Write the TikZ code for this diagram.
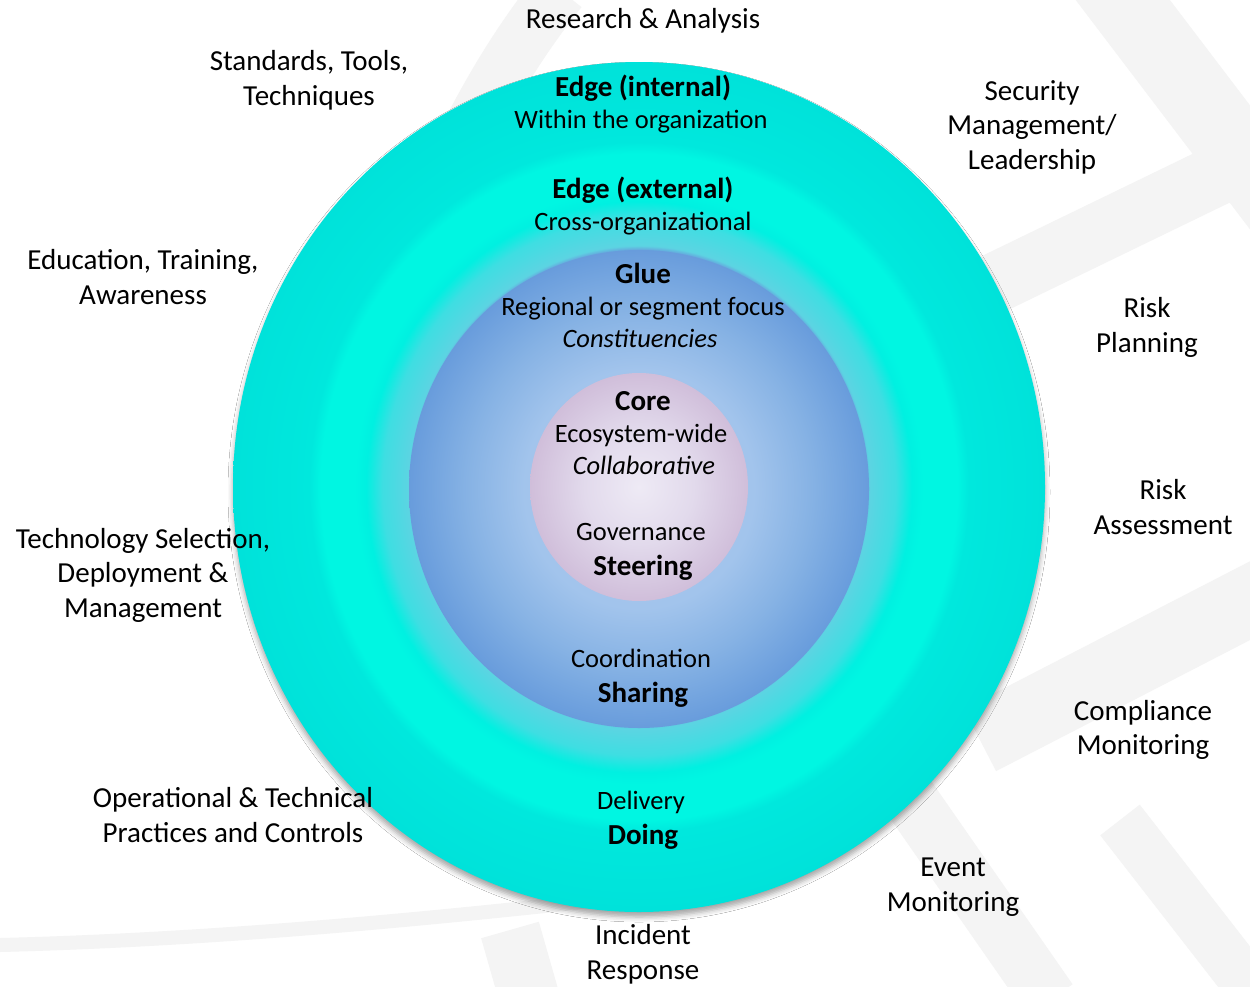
\documentclass[tikz,border=0pt]{standalone}
\usepackage{fontspec}
\setmainfont{Carlito}
\usetikzlibrary{shadows.blur}
\definecolor{wm}{RGB}{244,244,244}
\definecolor{glA}{RGB}{172,202,238}
\definecolor{glB}{RGB}{162,196,236}
\definecolor{glC}{RGB}{134,178,228}
\definecolor{glD}{RGB}{104,156,220}
\definecolor{rtA}{RGB}{92,212,226}
\definecolor{rtB}{RGB}{62,222,226}
\definecolor{rbA}{RGB}{0,240,225}
\definecolor{rbB}{RGB}{0,246,226}
\definecolor{roA}{RGB}{0,232,221}
\definecolor{roB}{RGB}{0,226,218}
\definecolor{coA}{RGB}{238,234,245}
\definecolor{coB}{RGB}{226,218,236}
\definecolor{coC}{RGB}{208,190,218}
\pgfdeclareradialshading{outerring}{\pgfpoint{0bp}{0bp}}{color(0bp)=(glD); color(13.9bp)=(glD); color(14.2bp)=(rtA); color(15.8bp)=(rtB); color(16.8bp)=(rbA); color(17.5bp)=(rbB); color(19.6bp)=(rbB); color(20.3bp)=(roA); color(25bp)=(roB); color(50bp)=(roB)}
\pgfdeclareradialshading{gluefill}{\pgfpoint{0bp}{0bp}}{color(0bp)=(glA); color(12.5bp)=(glB); color(18.75bp)=(glC); color(25bp)=(glD); color(50bp)=(glD)}
\pgfdeclareradialshading{corefill}{\pgfpoint{0bp}{0bp}}{color(0bp)=(coA); color(12.5bp)=(coB); color(25bp)=(coC); color(50bp)=(coC)}
\tikzset{
  lbl/.style={inner sep=0pt, anchor=base, font=\fontsize{29}{35}\selectfont, text=black},
  hd/.style={inner sep=0pt, anchor=base, font=\fontsize{29}{35}\selectfont\bfseries, text=black},
  sub/.style={inner sep=0pt, anchor=base, font=\fontsize{26.5}{33}\selectfont, text=black},
  subit/.style={inner sep=0pt, anchor=base, font=\fontsize{26.5}{33}\selectfont\itshape, text=black},
  wmband/.style={draw=wm, line cap=butt}
}
\begin{document}
\begin{tikzpicture}[x=1pt,y=-1pt]
\useasboundingbox (0,0) rectangle (1250,986);
\fill[white] (0,0) rectangle (1250,986);
% watermark
\begin{scope}
\clip (0,0) rectangle (1250,986);
\draw[wmband, line width=55] (560,-10) .. controls (520,40) and (490,90) .. (460,150);
\draw[wmband, line width=75] (1100,-30) -- (1290,220);
\draw[wmband, line width=60] (960,300) -- (1290,140);
\draw[wmband, line width=70] (980,740) -- (1290,580);
\draw[wmband, line width=55] (890,770) -- (1050,1000);
\draw[wmband, line width=50] (1120,820) -- (1260,1000);
\draw[wmband, line width=14] (0,945) .. controls (200,940) and (400,922) .. (600,900);
\draw[wmband, line width=60] (510,930) -- (530,1000);
\end{scope}
% rings
\shade[shading=outerring, blur shadow={shadow xshift=0pt, shadow yshift=-5pt, shadow blur radius=5pt, shadow opacity=35}] (639,487) ellipse [x radius=406, y radius=425];
\shade[shading=gluefill] (639,489) ellipse [x radius=230, y radius=239];
\shade[shading=corefill] (639,487) ellipse [x radius=109, y radius=114];
% outer labels
\node[lbl] (ra) at (643,28) {Research \& Analysis};
\node[lbl] (st1) at (309,70) {Standards, Tools,};
\node[lbl] (st2) at (309,105) {Techniques};
\node[lbl] (sm1) at (1032,100) {Security};
\node[lbl] (sm2) at (1032,134) {Management/};
\node[lbl] (sm3) at (1032,169) {Leadership};
\node[lbl] (ed1) at (143,269) {Education, Training,};
\node[lbl] (ed2) at (143,304) {Awareness};
\node[lbl] (rp1) at (1147,317) {Risk};
\node[lbl] (rp2) at (1147,352) {Planning};
\node[lbl] (rs1) at (1163,499) {Risk};
\node[lbl] (rs2) at (1163,534) {Assessment};
\node[lbl] (ts1) at (143,548) {Technology Selection,};
\node[lbl] (ts2) at (143,582) {Deployment \&};
\node[lbl] (ts3) at (143,617) {Management};
\node[lbl] (cm1) at (1143,720) {Compliance};
\node[lbl] (cm2) at (1143,754) {Monitoring};
\node[lbl] (op1) at (233,807) {Operational \& Technical};
\node[lbl] (op2) at (233,842) {Practices and Controls};
\node[lbl] (em1) at (953,876) {Event};
\node[lbl] (em2) at (953,911) {Monitoring};
\node[lbl] (ir1) at (643,944) {Incident};
\node[lbl] (ir2) at (643,979) {Response};
% inner labels
\node[hd] (ei1) at (643,96) {Edge (internal)};
\node[sub] (ei2) at (641,128.5) {Within the organization};
\node[hd] (ee1) at (643,198) {Edge (external)};
\node[sub] (ee2) at (643,230.5) {Cross-organizational};
\node[hd] (gl1) at (643,283) {Glue};
\node[sub] (gl2) at (643,315.5) {Regional or segment focus};
\node[subit] (gl3) at (640,347.5) {Constituencies};
\node[hd] (co1) at (643,410) {Core};
\node[sub] (co2) at (641,442.5) {Ecosystem-wide};
\node[subit] (co3) at (644,474.5) {Collaborative};
\node[sub] (gv1) at (641,540.5) {Governance};
\node[hd] (gv2) at (643,575) {Steering};
\node[sub] (cd1) at (641,667.5) {Coordination};
\node[hd] (cd2) at (643,702) {Sharing};
\node[sub] (dl1) at (641,809.5) {Delivery};
\node[hd] (dl2) at (643,844) {Doing};
\end{tikzpicture}
\end{document}
